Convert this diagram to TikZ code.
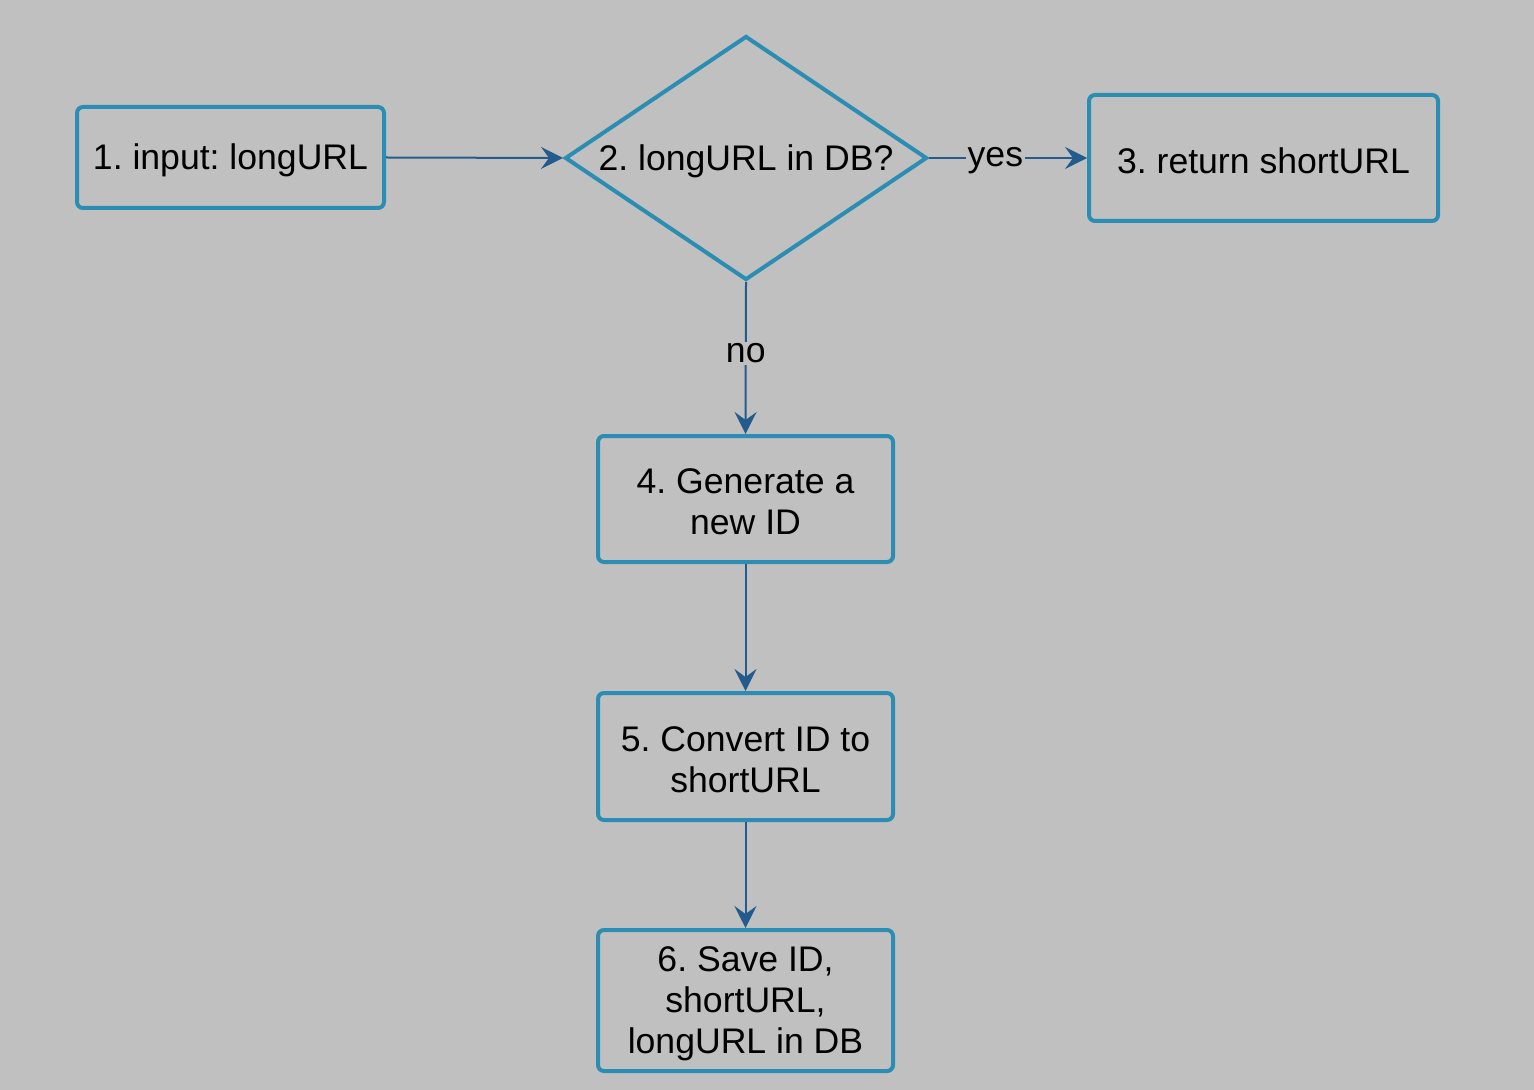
\documentclass[tikz,border=0pt]{standalone}
\usepackage{fontspec}
\setmainfont{Liberation Sans}
\usetikzlibrary{shapes.geometric,arrows.meta}
\definecolor{bggray}{RGB}{192,192,192}
\definecolor{boxline}{RGB}{44,141,179}
\definecolor{arrowline}{RGB}{35,91,140}
\begin{document}
\frenchspacing
\begin{tikzpicture}[x=0.5pt,y=-0.5pt,
  every node/.style={font=\fontsize{17.8pt}{20.5pt}\selectfont, text=black},
  stepbox/.style={draw=boxline, line width=2pt, rounded corners=3pt, fill=bggray, inner sep=0pt},
  boxtext/.style={align=center, yshift=-1.5pt, inner sep=0pt},
  decision/.style={diamond, draw=boxline, line width=2pt, fill=bggray, inner sep=0pt},
  flow/.style={draw=arrowline, line width=1pt, -{Stealth[length=11pt,width=11pt,inset=4pt]}},
  lbl/.style={fill=bggray, inner sep=1pt, yshift=-1.5pt}
]
\fill[bggray] (0,0) rectangle (1534,1090);
\useasboundingbox (0,0) rectangle (1534,1090);

\node[stepbox, minimum width=153.5pt, minimum height=50.5pt,
  label={[boxtext]center:1. input: longURL}] (n1) at (230.5,157.5) {};
\node[decision, minimum width=181pt, minimum height=122pt,
  label={[boxtext]center:2. longURL in DB?}] (n2) at (746,158) {};
\node[stepbox, minimum width=174.5pt, minimum height=63pt,
  label={[boxtext]center:3. return shortURL}] (n3) at (1263.5,158) {};
\node[stepbox, minimum width=147.5pt, minimum height=63pt,
  label={[boxtext]center:4. Generate a\\new ID}] (n4) at (745.5,499) {};
\node[stepbox, minimum width=147.5pt, minimum height=63.5pt,
  label={[boxtext]center:5. Convert ID to\\shortURL}] (n5) at (745.5,756.5) {};
\node[stepbox, minimum width=147.5pt, minimum height=70.5pt,
  label={[boxtext]center:6. Save ID,\\shortURL,\\longURL in DB}] (n6) at (745.5,1000.5) {};

\draw[flow] (n1.east) -- (n2.west);
\draw[flow] (n2.east) -- node[lbl, pos=0.42] {yes} (n3.west);
\draw[flow] (n2.south) -- node[lbl, pos=0.45] {no} (n4.north);
\draw[flow] (n4.south) -- (n5.north);
\draw[flow] (n5.south) -- (n6.north);
\end{tikzpicture}
\end{document}
